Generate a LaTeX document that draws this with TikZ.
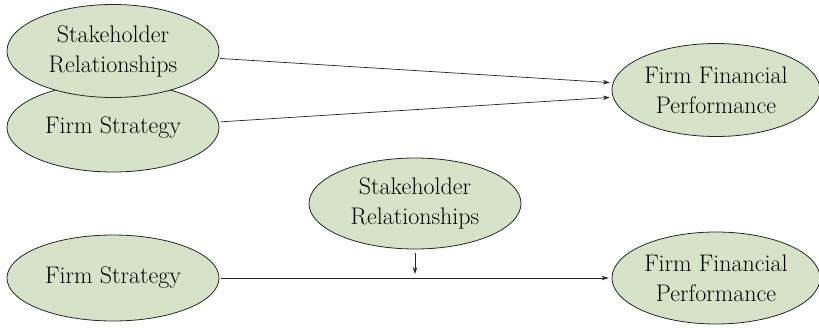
\documentclass[tikz,border=0pt]{standalone}
\usetikzlibrary{shapes.geometric,arrows.meta}
\definecolor{ellfill}{RGB}{215,227,200}
\tikzset{
  ell/.style={ellipse, draw=black!85, line width=0.8pt, fill=ellfill, inner sep=0pt,
    align=center, font=\fontsize{24}{30}\selectfont},
  conn/.style={line width=0.7pt, draw=black!85, -{Stealth[length=7pt,width=4.5pt]}},
}
\begin{document}
\begin{tikzpicture}[x=1pt,y=-1pt]
\useasboundingbox (0,0) rectangle (819,327);
% top diagram
\node[ell, minimum width=212pt, minimum height=89pt] (fs1) at (113,127.5) {Firm Strategy};
\node[ell, minimum width=212pt, minimum height=93pt] (sr1) at (113,51) {Stakeholder\\Relationships};
\node[ell, minimum width=208pt, minimum height=93pt] (ffp1) at (716,90) {Firm Financial\\Performance};
\draw[conn, shorten <=2pt, shorten >=3pt] (sr1.-4) -- (ffp1.176);
\draw[conn, shorten <=2pt, shorten >=3pt] (fs1.3.5) -- (ffp1.184);
% bottom diagram
\node[ell, minimum width=212pt, minimum height=86pt] (fs2) at (113,278) {Firm Strategy};
\node[ell, minimum width=212pt, minimum height=91pt] (sr2) at (415,203.5) {Stakeholder\\Relationships};
\node[ell, minimum width=208pt, minimum height=92pt] (ffp2) at (716,278) {Firm Financial\\Performance};
\draw[conn, shorten <=2pt, shorten >=3pt] (fs2.east) -- (ffp2.west);
\coordinate (mid) at (sr2.south |- fs2.east);
\draw[conn, shorten <=4pt, shorten >=4pt] (sr2.south) -- (mid);
\end{tikzpicture}
\end{document}
